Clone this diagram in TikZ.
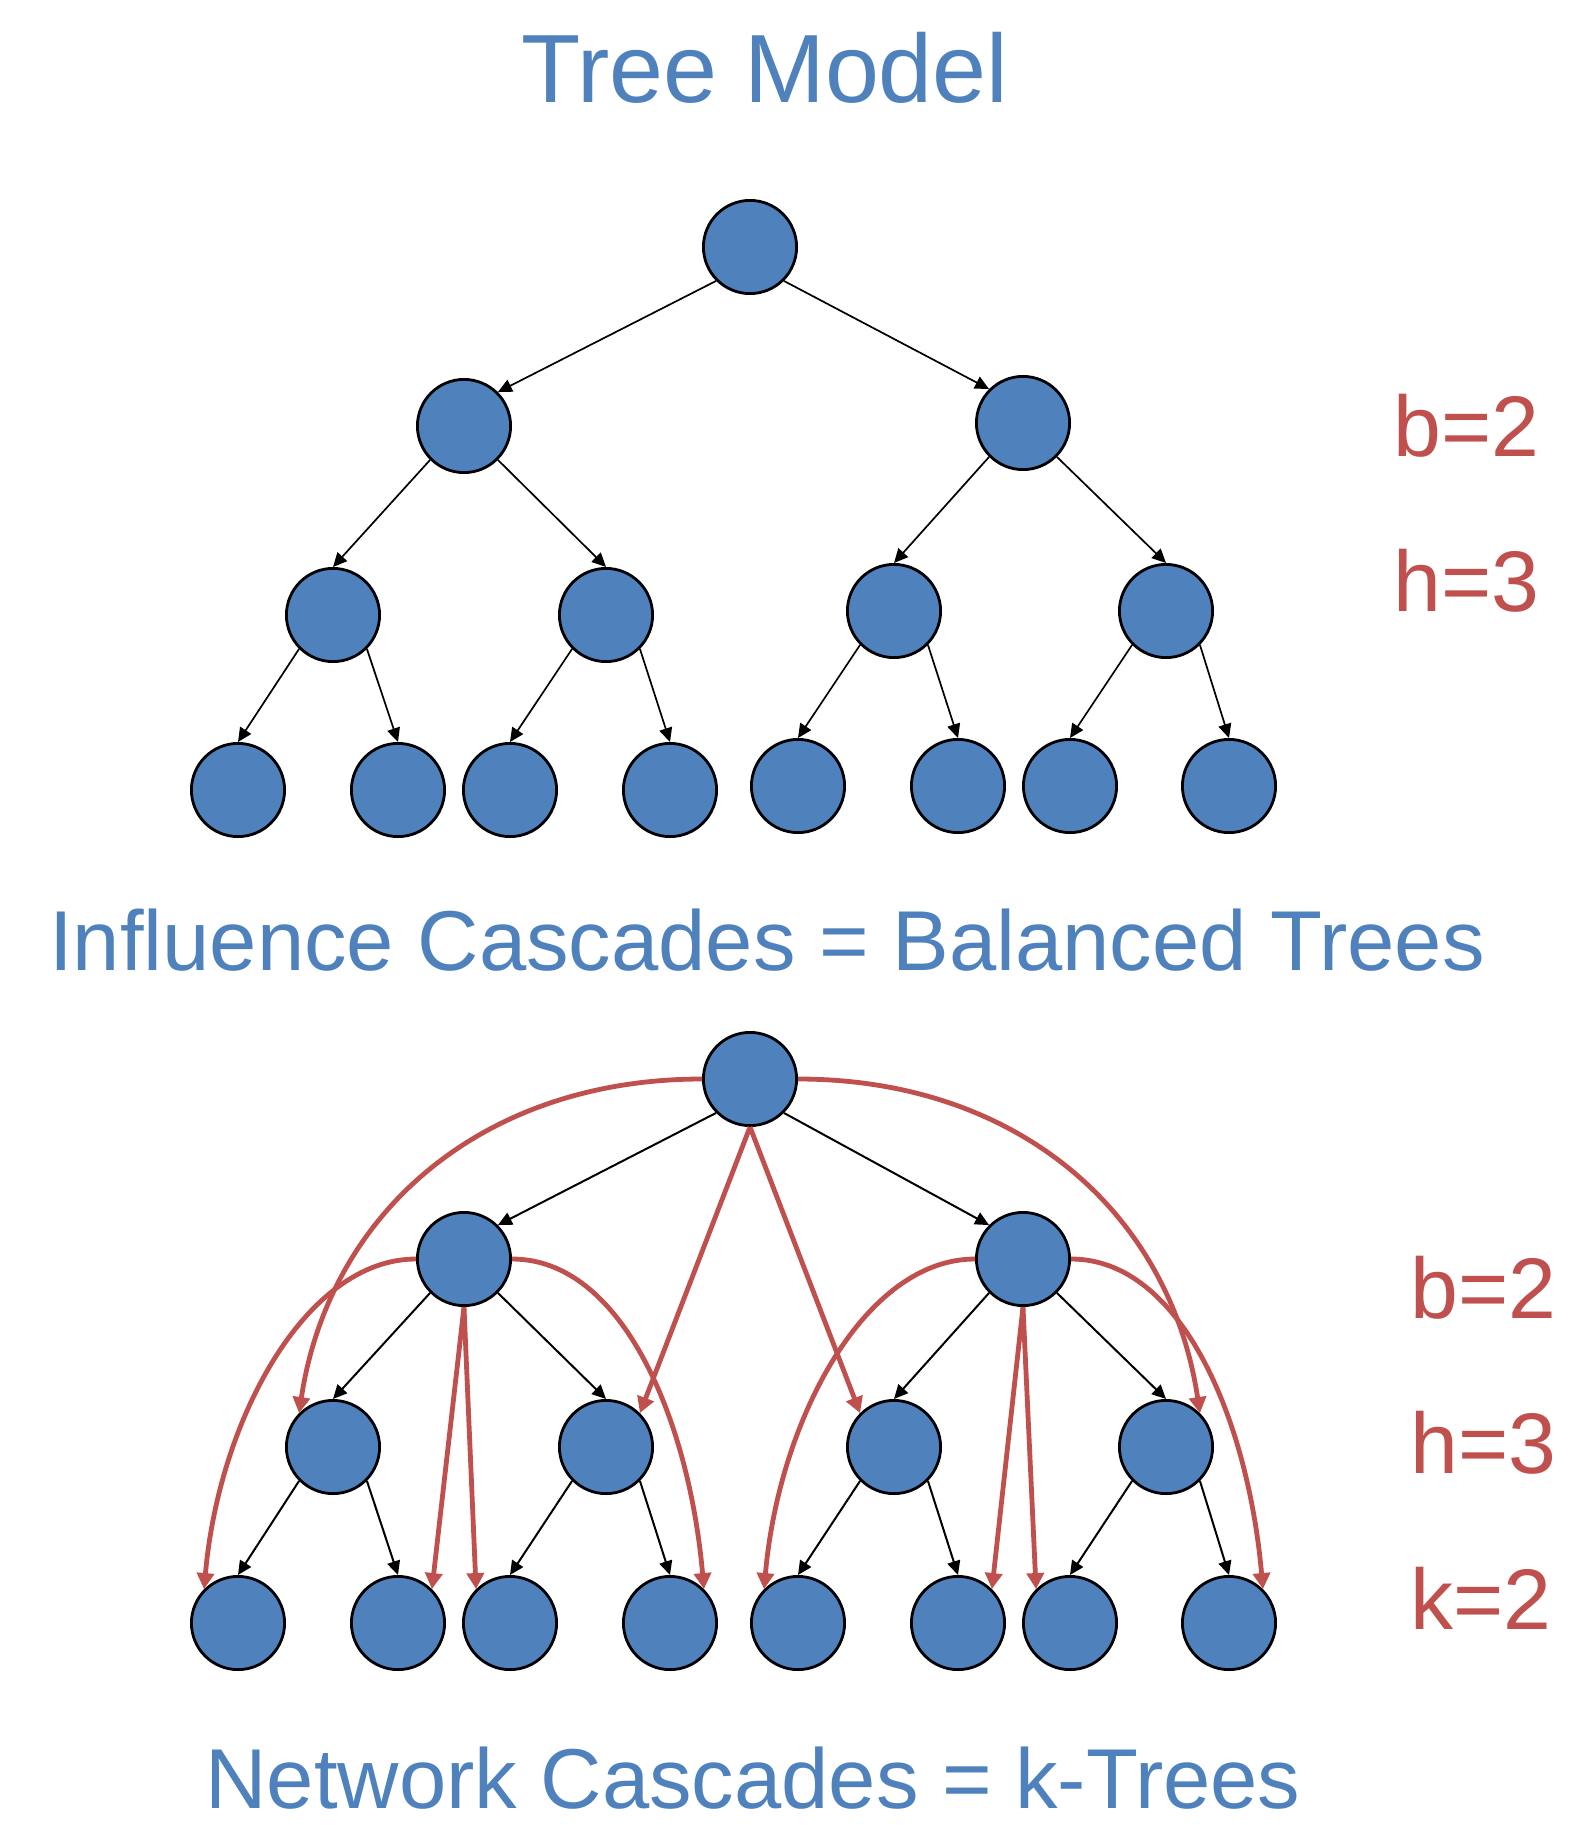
\documentclass[tikz,border=0pt]{standalone}
\usepackage{fontspec}
\setmainfont{Liberation Sans}
\usetikzlibrary{arrows.meta}
\definecolor{nodeblue}{HTML}{4F81BD}
\definecolor{linkred}{HTML}{C0504D}

\begin{document}
\begin{tikzpicture}[x=1pt,y=-1pt,
  vertex/.style={circle,draw=black,line width=2.8pt,fill=nodeblue,
                 minimum size=93.2pt,inner sep=0pt},
  edge/.style={draw=black,line width=#1,-{Triangle[length=14pt,width=13pt]}},
  edge/.default=1.8pt,
  kedge/.style={draw=linkred,line width=4.8pt,-{Triangle[length=16pt,width=17pt]}},
  bigtitle/.style={text=nodeblue,anchor=base,inner sep=0pt,
                   font=\fontsize{97}{110}\selectfont},
  subtitle/.style={text=nodeblue,anchor=base,inner sep=0pt,
                   font=\fontsize{85}{100}\selectfont},
  param/.style={text=linkred,anchor=base west,inner sep=0pt,
                font=\fontsize{86}{100}\selectfont}
]
\fill[white] (0,0) rectangle (1575,1825);
\useasboundingbox (0,0) rectangle (1575,1825);

% ---- balanced tree (top) ----
\node[vertex] (t) at (750,247) {};
\node[vertex] (t-a) at (464,426) {};
\node[vertex] (t-b) at (1023,423) {};
\node[vertex] (t-a-a) at (333,615) {};
\node[vertex] (t-a-b) at (606,615) {};
\node[vertex] (t-b-a) at (894,611) {};
\node[vertex] (t-b-b) at (1166,611) {};
\node[vertex] (t-a-a-a) at (238,790) {};
\node[vertex] (t-a-a-b) at (398,790) {};
\node[vertex] (t-a-b-a) at (510,790) {};
\node[vertex] (t-a-b-b) at (670,790) {};
\node[vertex] (t-b-a-a) at (798,786) {};
\node[vertex] (t-b-a-b) at (958,786) {};
\node[vertex] (t-b-b-a) at (1070,786) {};
\node[vertex] (t-b-b-b) at (1229,786) {};

% ---- k-tree (bottom) ----
\node[vertex] (n) at (750,1079) {};
\node[vertex] (n-a) at (464,1259) {};
\node[vertex] (n-b) at (1023,1259) {};
\node[vertex] (n-a-a) at (333,1447) {};
\node[vertex] (n-a-b) at (606,1447) {};
\node[vertex] (n-b-a) at (894,1447) {};
\node[vertex] (n-b-b) at (1166,1447) {};
\node[vertex] (n-a-a-a) at (238,1623) {};
\node[vertex] (n-a-a-b) at (398,1623) {};
\node[vertex] (n-a-b-a) at (510,1623) {};
\node[vertex] (n-a-b-b) at (670,1623) {};
\node[vertex] (n-b-a-a) at (798,1623) {};
\node[vertex] (n-b-a-b) at (958,1623) {};
\node[vertex] (n-b-b-a) at (1070,1623) {};
\node[vertex] (n-b-b-b) at (1229,1623) {};

% tree edges
\foreach \p/\w in {t/1.7pt,n/2pt}{
  \draw[edge=\w] (\p.south west) -- (\p-a.north east);
  \draw[edge=\w] (\p.south east) -- (\p-b.north west);
  \foreach \q in {a,b}{
    \draw[edge=\w] (\p-\q.south west) -- (\p-\q-a.north);
    \draw[edge=\w] (\p-\q.south east) -- (\p-\q-b.north);
    \foreach \r in {a,b}{
      \draw[edge=\w] (\p-\q-\r.south west) -- (\p-\q-\r-a.north);
      \draw[edge=\w] (\p-\q-\r.south east) -- (\p-\q-\r-b.north);
    }
  }
}

% extra k-tree links (two levels down)
\draw[kedge] (n.west) .. controls +(-220,0) and +(30,-200) .. (n-a-a.north west);
\draw[kedge] (n.east) .. controls +(220,0) and +(-30,-200) .. (n-b-b.north east);
\draw[kedge] (n.south) -- (n-a-b.north east);
\draw[kedge] (n.south) -- (n-b-a.north west);
\foreach \q in {a,b}{
  \draw[kedge] (n-\q.west) .. controls +(-110,0) and +(15,-170) .. (n-\q-a-a.north west);
  \draw[kedge] (n-\q.east) .. controls +(110,0) and +(-15,-170) .. (n-\q-b-b.north east);
  \draw[kedge] (n-\q.south) -- (n-\q-a-b.north east);
  \draw[kedge] (n-\q.south) -- (n-\q-b-a.north west);
}

% titles
\node[bigtitle] (title1) at (765,103) {Tree Model};
\node[subtitle] (title2) at (767,970) {Influence Cascades = Balanced Trees};
\node[subtitle] (title3) at (753,1808) {Network Cascades = k-Trees};

% parameters
\node[param] (pb1) at (1393,456) {b=2};
\node[param] (ph1) at (1393,611) {h=3};
\node[param] (pb2) at (1410,1318) {b=2};
\node[param] (ph2) at (1410,1473) {h=3};
\node[param] (pk2) at (1410,1629) {k=2};
\end{tikzpicture}
\end{document}
